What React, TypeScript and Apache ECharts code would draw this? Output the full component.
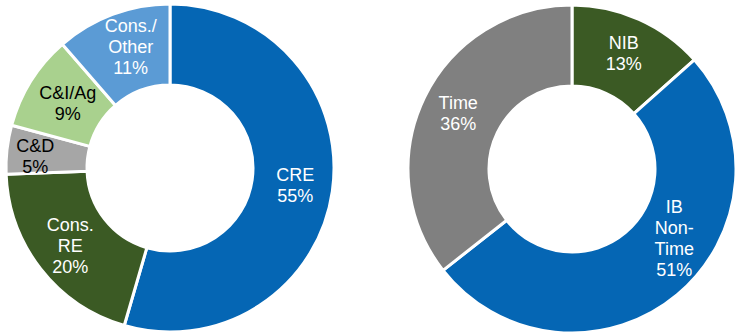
import React, { useEffect, useRef } from "react";
import * as echarts from "echarts";

const loanCategories = ["CRE", "Cons.\nRE", "C&D", "C&I/Ag", "Cons./\nOther"];
const loanValues = [54.5, 19.9, 4.8, 9.4, 11.4];
const loanColors = ["#0566B4", "#3B5A24", "#A6A6A6", "#A9D18E", "#5B9BD5"];
const loanLabelColors = ["#fff", "#fff", "#000", "#000", "#fff"];

const depositCategories = ["NIB", "IB\nNon-\nTime", "Time"];
const depositValues = [13.4, 51.0, 35.6];
const depositColors = ["#3B5A24", "#0566B4", "#808080"];
const depositLabelColors = ["#fff", "#fff", "#fff"];

const labelOffsets: Record<string, number[]> = {
  "C&D": [-9, 3],
  "C&I/Ag": [5, 3],
  "Cons./\nOther": [5, -3],
  "IB\nNon-\nTime": [21, -27],
};

function buildData(cats: string[], vals: number[], colors: string[], lc: string[]) {
  return cats.map((name, i) => ({
    name,
    value: vals[i],
    itemStyle: { color: colors[i] },
    label: {
      color: lc[i],
      ...(labelOffsets[name] ? { offset: labelOffsets[name] } : {}),
    },
  }));
}

export default function App() {
  const ref = useRef<HTMLDivElement>(null);
  useEffect(() => {
    document.body.style.margin = "0";
    const chart = echarts.init(ref.current!, null, { renderer: "svg" });
    const common = {
      type: "pie",
      radius: [83, 164],
      startAngle: 90,
      clockwise: true,
      avoidLabelOverlap: false,
      itemStyle: { borderColor: "#fff", borderWidth: 3 },
      label: {
        show: true,
        position: "inside",
        formatter: (p: any) => `${p.name}\n${Math.round(p.value)}%`,
        fontFamily: "Liberation Sans, Arial, sans-serif",
        fontSize: 18,
        lineHeight: 21,
        align: "center",
      },
      labelLine: { show: false },
      emphasis: { disabled: true },
    };
    chart.setOption({
      animation: false,
      series: [
        {
          ...common,
          center: [170, 168],
          data: buildData(loanCategories, loanValues, loanColors, loanLabelColors),
        },
        {
          ...common,
          center: [572, 169],
          data: buildData(depositCategories, depositValues, depositColors, depositLabelColors),
        },
      ],
    });
    return () => chart.dispose();
  }, []);
  return <div ref={ref} style={{ width: 736, height: 333 }} />;
}
